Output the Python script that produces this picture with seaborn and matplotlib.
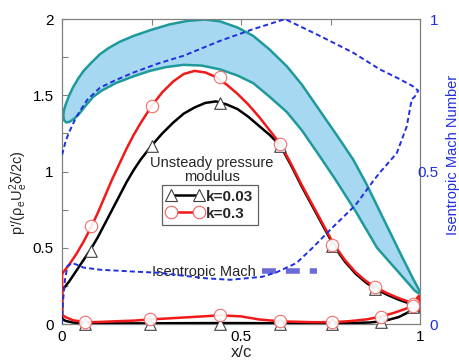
import matplotlib
matplotlib.use("Agg")
import matplotlib.pyplot as plt
from matplotlib.lines import Line2D
from matplotlib.ticker import FixedLocator
import pandas as pd
import seaborn as sns

# ---------------- data ----------------
# Blade section outline, plotted in (x/c, left-axis units)
blade_upper_x = [0.003, 0.005, 0.01, 0.02, 0.03, 0.045, 0.06, 0.08, 0.106, 0.13, 0.16, 0.2,
                 0.25, 0.3, 0.35, 0.4, 0.441, 0.49, 0.534, 0.58, 0.628, 0.67, 0.72, 0.77,
                 0.813, 0.85, 0.9, 0.95, 0.98, 0.997, 1.0]
blade_upper_y = [1.36, 1.40, 1.44, 1.50, 1.55, 1.61, 1.66, 1.71, 1.77, 1.81, 1.85, 1.89,
                 1.93, 1.965, 1.988, 1.997, 1.985, 1.945, 1.89, 1.80, 1.69, 1.57, 1.40, 1.23,
                 1.08, 0.92, 0.68, 0.44, 0.30, 0.225, 0.21]
blade_lower_x = [0.003, 0.006, 0.012, 0.02, 0.03, 0.045, 0.065, 0.087, 0.11, 0.15, 0.2,
                 0.245, 0.29, 0.34, 0.39, 0.441, 0.49, 0.534, 0.58, 0.628, 0.67, 0.72,
                 0.763, 0.82, 0.88, 0.94, 0.985, 0.997, 1.0]
blade_lower_y = [1.36, 1.335, 1.322, 1.325, 1.34, 1.37, 1.43, 1.49, 1.53, 1.58, 1.625,
                 1.66, 1.685, 1.70, 1.695, 1.67, 1.63, 1.58, 1.49, 1.39, 1.27, 1.10,
                 0.95, 0.74, 0.50, 0.34, 0.22, 0.20, 0.21]

# Unsteady pressure modulus, k = 0.03
k003_suction_x = [0.0, 0.01, 0.02, 0.04, 0.06, 0.08, 0.1, 0.12, 0.14, 0.16, 0.18, 0.2, 0.22,
                  0.25, 0.28, 0.31, 0.34, 0.37, 0.4, 0.43, 0.46, 0.49, 0.52, 0.55, 0.58,
                  0.61, 0.64, 0.67, 0.7, 0.73, 0.76, 0.79, 0.82, 0.85, 0.88, 0.91, 0.94,
                  0.97, 0.98, 1.0]
k003_suction_y = [0.22, 0.25, 0.28, 0.35, 0.42, 0.49, 0.57, 0.66, 0.75, 0.84, 0.93, 1.01,
                  1.08, 1.17, 1.25, 1.32, 1.38, 1.42, 1.45, 1.46, 1.44, 1.41, 1.36, 1.30,
                  1.24, 1.17, 1.04, 0.90, 0.77, 0.64, 0.51, 0.41, 0.33, 0.27, 0.225, 0.19,
                  0.16, 0.135, 0.125, 0.14]
k003_pressure_x = [0.0, 0.01, 0.03, 0.06, 0.1, 0.2, 0.3, 0.4, 0.5, 0.6, 0.7, 0.8, 0.86,
                   0.9, 0.94, 0.97, 0.99, 1.0]
k003_pressure_y = [0.035, 0.02, 0.01, 0.005, 0.004, 0.004, 0.005, 0.006, 0.006, 0.005,
                   0.005, 0.006, 0.01, 0.02, 0.045, 0.08, 0.11, 0.12]
k003_mark_sx = [0.08, 0.25, 0.44, 0.61, 0.755, 0.875, 0.98]
k003_mark_sy = [0.48, 1.17, 1.45, 1.17, 0.51, 0.23, 0.12]
k003_mark_px = [0.065, 0.246, 0.44, 0.61, 0.755, 0.89, 0.98]
k003_mark_py = [0.0, 0.0, 0.0, 0.0, 0.0, 0.01, 0.11]

# Unsteady pressure modulus, k = 0.3
k03_suction_x = [0.0, 0.01, 0.02, 0.04, 0.06, 0.08, 0.1, 0.12, 0.14, 0.16, 0.18, 0.2, 0.22,
                 0.25, 0.28, 0.31, 0.34, 0.37, 0.4, 0.43, 0.46, 0.49, 0.52, 0.55, 0.58,
                 0.61, 0.64, 0.67, 0.7, 0.73, 0.76, 0.79, 0.82, 0.85, 0.88, 0.91, 0.94,
                 0.97, 0.98, 0.997]
k03_suction_y = [0.33, 0.36, 0.39, 0.46, 0.54, 0.63, 0.73, 0.84, 0.95, 1.05, 1.15, 1.24,
                 1.32, 1.43, 1.52, 1.59, 1.64, 1.66, 1.65, 1.62, 1.57, 1.51, 1.44, 1.36,
                 1.27, 1.18, 1.05, 0.91, 0.78, 0.65, 0.52, 0.42, 0.34, 0.28, 0.235, 0.2,
                 0.17, 0.145, 0.135, 0.185]
k03_pressure_x = [0.0, 0.01, 0.03, 0.065, 0.1, 0.15, 0.2, 0.246, 0.3, 0.35, 0.4, 0.44,
                  0.5, 0.55, 0.61, 0.65, 0.7, 0.755, 0.8, 0.85, 0.89, 0.93, 0.96, 0.98,
                  0.997]
k03_pressure_y = [0.06, 0.045, 0.025, 0.012, 0.013, 0.018, 0.022, 0.03, 0.037, 0.044,
                  0.051, 0.057, 0.05, 0.03, 0.017, 0.015, 0.012, 0.012, 0.018, 0.03,
                  0.048, 0.075, 0.1, 0.118, 0.085]
k03_mark_sx = [0.08, 0.25, 0.44, 0.61, 0.755, 0.875, 0.98]
k03_mark_sy = [0.64, 1.43, 1.62, 1.18, 0.52, 0.24, 0.13]
k03_mark_px = [0.065, 0.246, 0.44, 0.61, 0.755, 0.89, 0.98]
k03_mark_py = [0.012, 0.03, 0.06, 0.017, 0.012, 0.048, 0.12]

# Isentropic Mach number (right axis): suction side LE->TE, then pressure side TE->LE
mach_suction_x = [0.0, 0.01, 0.02, 0.04, 0.07, 0.106, 0.15, 0.2, 0.27, 0.34, 0.44, 0.534,
                  0.623, 0.72, 0.813, 0.888, 0.94, 0.98, 0.995, 0.985]
mach_suction_m = [0.555, 0.6, 0.63, 0.68, 0.735, 0.775, 0.80, 0.825, 0.855, 0.88, 0.928,
                  0.967, 1.0, 0.945, 0.89, 0.835, 0.805, 0.78, 0.765, 0.745]
mach_pressure_x = [0.977, 0.963, 0.935, 0.888, 0.87, 0.82, 0.75, 0.7, 0.655, 0.6, 0.56,
                   0.47, 0.4, 0.27, 0.2, 0.106, 0.06, 0.04, 0.028, 0.015, 0.008, 0.003,
                   0.0, 0.0]
mach_pressure_m = [0.737, 0.648, 0.56, 0.497, 0.47, 0.39, 0.31, 0.25, 0.2, 0.17, 0.155,
                   0.145, 0.15, 0.168, 0.172, 0.178, 0.185, 0.195, 0.2, 0.19, 0.145, 0.08,
                   0.036, 0.0]

x_ticks = [0, 0.5, 1]
x_ticklabels = ["0", "0.5", "1"]
y_ticks = [0, 0.5, 1, 1.5, 2]
y_ticklabels = ["0", "0.5", "1", "1.5", "2"]
mach_ticks = [0, 0.5, 1]
mach_ticklabels = ["0", "0.5", "1"]

legend_labels = ["k=0.03", "k=0.3"]
legend_title = "Unsteady pressure\nmodulus"
mach_key_label = "Isentropic Mach"

# ---------------- style ----------------
sns.set_theme(style="white")
plt.rcParams["font.family"] = ["Liberation Sans", "DejaVu Sans"]
plt.rcParams["mathtext.fontset"] = "custom"
plt.rcParams["mathtext.rm"] = "Liberation Sans"
plt.rcParams["mathtext.it"] = "Liberation Sans:italic"

BLUE = "#1f2fe0"
TEAL = "#1f9a9a"
FILL = "#a6d8f2"
RED = "#f01a1a"
SPINE = "#808080"

fig = plt.figure(figsize=(4.6, 3.6), dpi=100)
ax = fig.add_axes([0.135, 0.1, 0.778, 0.847])

# blade section
bx = blade_upper_x + blade_lower_x[::-1]
by = blade_upper_y + blade_lower_y[::-1]
ax.fill(bx, by, color=FILL, zorder=1, lw=0)
blade = pd.DataFrame({"x": bx, "y": by})
sns.lineplot(data=blade, x="x", y="y", sort=False, estimator=None, color=TEAL,
             lw=1.8, ax=ax, zorder=2)


def loop(sx, sy, px, py):
    return pd.DataFrame({"x": sx + px[::-1] + sx[:1], "y": sy + py[::-1] + sy[:1]})


sns.lineplot(data=loop(k003_suction_x, k003_suction_y, k003_pressure_x, k003_pressure_y),
             x="x", y="y", sort=False, estimator=None, color="black", lw=1.8, ax=ax,
             zorder=3)
sns.lineplot(data=loop(k03_suction_x, k03_suction_y, k03_pressure_x, k03_pressure_y),
             x="x", y="y", sort=False, estimator=None, color=RED, lw=1.8, ax=ax, zorder=4)

tri_kw = dict(marker="^", s=70, facecolor="white", edgecolor="#404040", linewidth=0.8,
              clip_on=False, ax=ax, zorder=5)
circ_kw = dict(marker="o", s=80, facecolor="white", edgecolor="#f06060", linewidth=0.8,
               clip_on=False, ax=ax, zorder=6, alpha=0.9)
sns.scatterplot(x=k003_mark_sx, y=k003_mark_sy, **tri_kw)
sns.scatterplot(x=k003_mark_px, y=k003_mark_py, **tri_kw)
sns.scatterplot(x=k03_mark_sx, y=k03_mark_sy, **circ_kw)
sns.scatterplot(x=k03_mark_px, y=k03_mark_py, **circ_kw)

ax.set_xlim(0, 1)
ax.set_ylim(0, 2)
ax.xaxis.set_major_locator(FixedLocator(x_ticks))
ax.xaxis.set_minor_locator(FixedLocator([0.25, 0.75]))
ax.yaxis.set_major_locator(FixedLocator(y_ticks))
ax.yaxis.set_minor_locator(FixedLocator([0.25, 0.75, 1.25, 1.75]))
ax.set_xticklabels(x_ticklabels)
ax.set_yticklabels(y_ticklabels)
ax.tick_params(which="both", direction="in", top=True, right=True, length=4,
               width=0.8, color=SPINE, labelsize=11, labelcolor="black")
ax.tick_params(axis="y", pad=6)
ax.tick_params(axis="x", pad=4)
for s in ax.spines.values():
    s.set_color(SPINE)
    s.set_linewidth(0.9)

ax.set_xlabel("x/c", fontsize=12, labelpad=1)
ax.set_ylabel(r"p'/(ρ$_\mathrm{e}$U$_\mathrm{e}^{2}$δ/2c)", fontsize=10.5)
ax.yaxis.set_label_coords(-0.09, 0.43)

# isentropic Mach number on the right-hand axis
ax2 = ax.twinx()
mach = pd.DataFrame({"x": mach_suction_x + mach_pressure_x,
                     "m": mach_suction_m + mach_pressure_m})
sns.lineplot(data=mach, x="x", y="m", sort=False, estimator=None, color=BLUE, lw=1.4,
             ax=ax2, zorder=7)
ax2.lines[-1].set_linestyle((0, (2.6, 1.6)))
ax2.set_ylim(0, 1)
ax2.set_xlim(0, 1)
ax2.yaxis.set_major_locator(FixedLocator(mach_ticks))
ax2.set_yticklabels(mach_ticklabels)
ax2.tick_params(axis="y", length=0, labelsize=11, labelcolor=BLUE, pad=13)
for lab in ax2.get_yticklabels():
    lab.set_horizontalalignment("right")
for s in ax2.spines.values():
    s.set_visible(False)
ax2.set_ylabel("Isentropic Mach Number", color=BLUE, fontsize=10.5)
ax2.yaxis.set_label_coords(1.072, 0.554)

# legends
handles = [
    Line2D([], [], color="black", lw=1.8, marker="^", markersize=9,
           markerfacecolor="white", markeredgecolor="#404040", markeredgewidth=0.8),
    Line2D([], [], color=RED, lw=1.8, marker="o", markersize=9,
           markerfacecolor="white", markeredgecolor="#f06060", markeredgewidth=0.8),
]
leg = ax2.legend(handles, legend_labels, loc="upper left", bbox_to_anchor=(0.279, 0.456),
                 borderaxespad=0, numpoints=2, handlelength=2.4, handletextpad=0.2,
                 labelspacing=0.2, borderpad=0.3, frameon=True, fancybox=False,
                 prop={"weight": "bold", "size": 11})
leg.get_frame().set_edgecolor("#606060")
leg.get_frame().set_linewidth(0.9)
leg.get_frame().set_alpha(1)
ax2.add_artist(leg)

ax2.text(0.419, 0.505, legend_title, transform=ax2.transAxes, ha="center", va="center",
         fontsize=10.5, linespacing=1.0)

mach_key = Line2D([], [], color="#6a6ad8", lw=4, linestyle=(0, (2.5, 1.8)))
leg2 = ax2.legend([mach_key], [mach_key_label], loc="center left",
                  bbox_to_anchor=(0.235, 0.17), borderaxespad=0, markerfirst=False,
                  frameon=False, handlelength=3.8, handletextpad=0.4,
                  prop={"size": 10.5})

fig.savefig("out.png", dpi=100)
